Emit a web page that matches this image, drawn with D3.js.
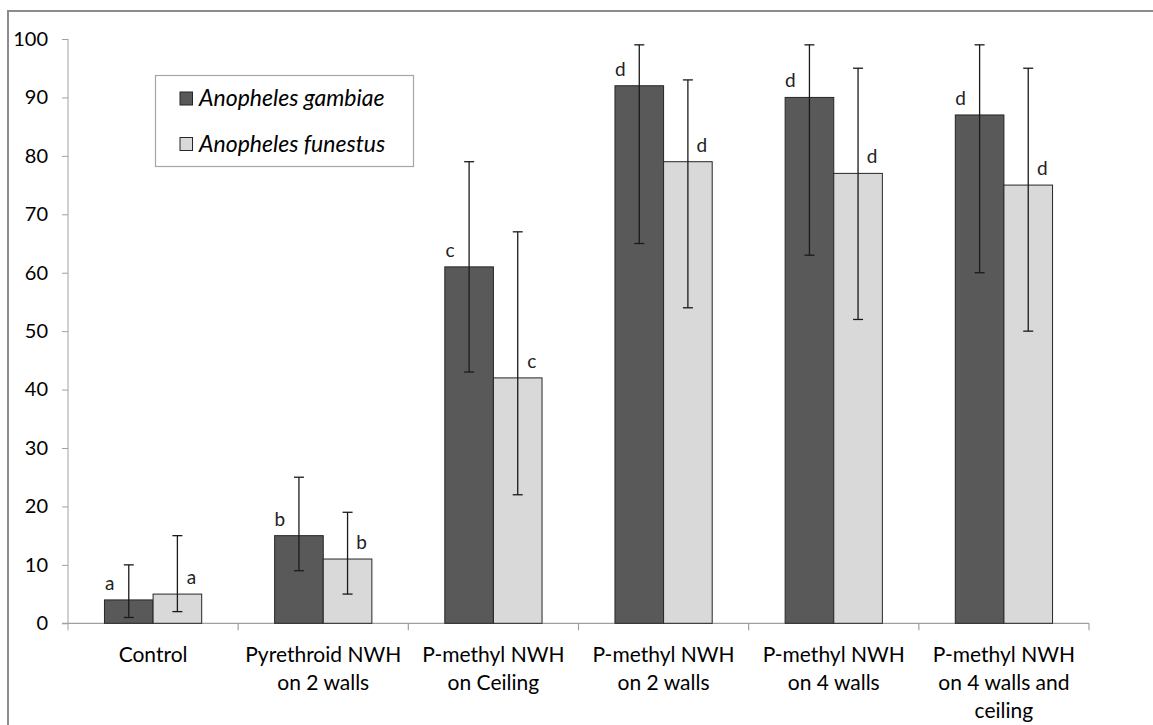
<!DOCTYPE html>
<html><head><meta charset="utf-8">
<script src="https://cdn.jsdelivr.net/npm/d3@7"></script>
<style>
html,body{margin:0;padding:0;background:#fff;}
svg{display:block;font-family:Lato,"Open Sans",sans-serif;}
</style></head>
<body>
<svg id="chart" width="1153" height="725"></svg>
<script>
// ---- data ----
const categories = [
  ["Control"],
  ["Pyrethroid NWH", "on 2 walls"],
  ["P-methyl NWH", "on Ceiling"],
  ["P-methyl NWH", "on 2 walls"],
  ["P-methyl NWH", "on 4 walls"],
  ["P-methyl NWH", "on 4 walls and", "ceiling"]
];
const seriesNames = ["Anopheles gambiae", "Anopheles funestus"];
const gambiae      = [4, 15, 61, 92, 90, 87];
const gambiaeLow   = [1, 9, 43, 65, 63, 60];
const gambiaeHigh  = [10, 25, 79, 99, 99, 99];
const funestus     = [5, 11, 42, 79, 77, 75];
const funestusLow  = [2, 5, 22, 54, 52, 50];
const funestusHigh = [15, 19, 67, 93, 95, 95];
const gambiaeLetters  = ["a", "b", "c", "d", "d", "d"];
const funestusLetters = ["a", "b", "c", "d", "d", "d"];
const yTicks = [0, 10, 20, 30, 40, 50, 60, 70, 80, 90, 100];

(function () {
const series = [
  {name: seriesNames[0], values: gambiae, low: gambiaeLow, high: gambiaeHigh, letters: gambiaeLetters, fill: "#595959", lx: -19},
  {name: seriesNames[1], values: funestus, low: funestusLow, high: funestusHigh, letters: funestusLetters, fill: "#d9d9d9", lx: 14}
];

const svg = d3.select("#chart");
const mLeft = 68, mRight = 1089, mTop = 39, mBottom = 623.3;

// outer frame
svg.append("rect").attr("x", 8).attr("y", 11).attr("width", 1200).attr("height", 800)
  .attr("fill", "none").attr("stroke", "#8c8c8c").attr("stroke-width", 2);

const y = d3.scaleLinear().domain([0, 100]).range([mBottom, mTop]);
const x = d3.scaleBand().domain(d3.range(categories.length)).range([mLeft, mRight])
  .paddingInner(1.5 / 3.5).paddingOuter(0.75 / 3.5);
const xs = d3.scaleBand().domain(d3.range(series.length)).range([0, x.bandwidth()]);
const step = x.step();

// y axis
const yAxis = d3.axisLeft(y).tickValues(yTicks).tickSize(6).tickPadding(14);
const gy = svg.append("g").attr("transform", `translate(${mLeft},0)`).call(yAxis);
gy.select(".domain").attr("stroke", "#a0a0a0").attr("d", `M0,${mTop}V${mBottom + 7}`);
gy.selectAll(".tick line").attr("stroke", "#a0a0a0");
gy.selectAll(".tick text").attr("fill", "#000").style("font-size", "20px").style("font-family", "Lato");

// x axis line and boundary ticks
svg.append("line").attr("x1", mLeft - 6).attr("x2", mRight).attr("y1", mBottom).attr("y2", mBottom)
  .attr("stroke", "#a0a0a0").attr("stroke-width", 1.2);
const bounds = d3.range(1, categories.length + 1).map(i => mLeft + i * step);
svg.selectAll(".xt").data(bounds).join("line")
  .attr("x1", d => d).attr("x2", d => d).attr("y1", mBottom).attr("y2", mBottom + 7)
  .attr("stroke", "#a0a0a0").attr("stroke-width", 1.2);

// category labels
svg.selectAll(".cat").data(categories).join("text")
  .attr("class", "cat")
  .attr("x", (d, i) => x(i) + x.bandwidth() / 2)
  .attr("y", 661.5)
  .attr("text-anchor", "middle")
  .attr("fill", "#000")
  .style("font-size", "21px")
  .each(function(lines) {
    const t = d3.select(this);
    const xx = t.attr("x");
    lines.forEach((ln, j) => t.append("tspan").attr("x", xx).attr("dy", j === 0 ? 0 : 28).text(ln));
  });

// bars
series.forEach((s, si) => {
  const g = svg.append("g");
  g.selectAll("rect").data(s.values).join("rect")
    .attr("x", (d, i) => x(i) + xs(si))
    .attr("y", d => y(d))
    .attr("width", xs.bandwidth())
    .attr("height", d => y(0) - y(d))
    .attr("fill", s.fill).attr("stroke", "#262626").attr("stroke-width", 1);
});

// error bars and letters
series.forEach((s, si) => {
  const g = svg.append("g");
  s.values.forEach((v, i) => {
    const cx = x(i) + xs(si) + xs.bandwidth() / 2;
    g.append("line").attr("x1", cx).attr("x2", cx).attr("y1", y(s.low[i])).attr("y2", y(s.high[i]))
      .attr("stroke", "#1a1a1a").attr("stroke-width", 1.3);
    [s.low[i], s.high[i]].forEach(e => {
      g.append("line").attr("x1", cx - 5).attr("x2", cx + 5).attr("y1", y(e)).attr("y2", y(e))
        .attr("stroke", "#1a1a1a").attr("stroke-width", 1.3);
    });
    g.append("text").attr("x", cx + s.lx).attr("y", y(v) - 10)
      .attr("text-anchor", "middle").style("font-size", "19px").attr("fill", "#222")
      .text(s.letters[i]);
  });
});

// legend
const lg = svg.append("g");
lg.append("rect").attr("x", 155.5).attr("y", 75.5).attr("width", 258).attr("height", 91)
  .attr("fill", "#fff").attr("stroke", "#a6a6a6").attr("stroke-width", 1.2);
series.forEach((s, si) => {
  const yy = 92 + si * 45.5;
  lg.append("rect").attr("x", 180).attr("y", yy).attr("width", 12.5).attr("height", 13)
    .attr("fill", s.fill).attr("stroke", "#262626").attr("stroke-width", 1);
  lg.append("text").attr("x", 199).attr("y", yy + 14)
    .style("font-size", "23px").style("font-style", "italic").attr("fill", "#000")
    .text(s.name);
});
})();
</script>
</body></html>
